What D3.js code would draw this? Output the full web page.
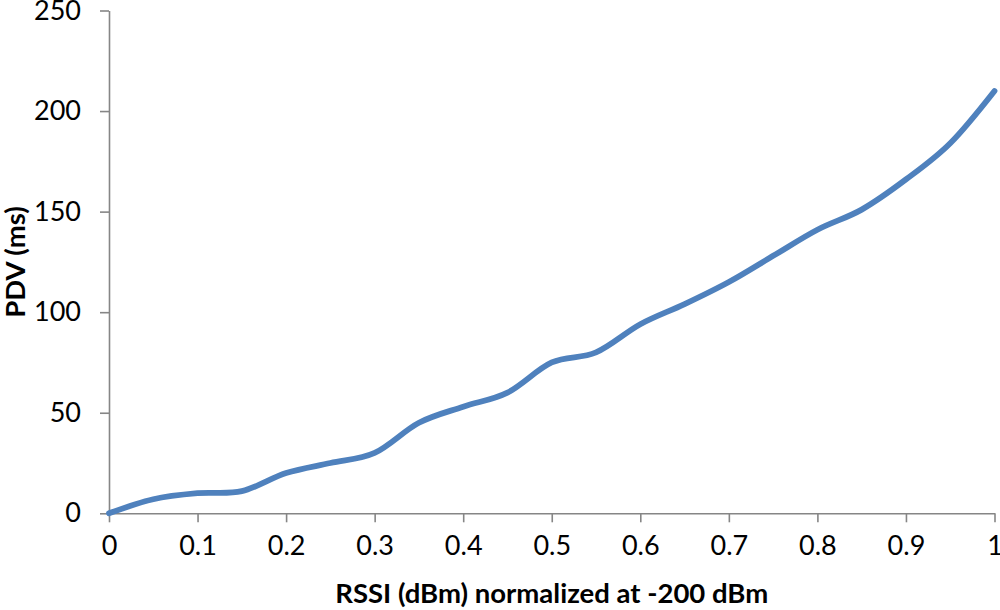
<!DOCTYPE html>
<html>
<head>
<meta charset="utf-8">
<script src="https://cdn.jsdelivr.net/npm/d3@7"></script>
<style>
  body { margin: 0; background: #fff; }
  svg { display: block; }
</style>
</head>
<body>
<script>
var wW = 1000;
var wH = 610;

// values, one point every 0.05
var rssi = [0, 0.05, 0.1, 0.15, 0.2, 0.25, 0.3, 0.35, 0.4, 0.45, 0.5,
            0.55, 0.6, 0.65, 0.7, 0.75, 0.8, 0.85, 0.9, 0.95, 1];
var pdv = [0, 7, 10, 11, 20, 25, 30, 45, 53, 60, 75,
           80, 94, 104, 115, 128, 141, 151, 166, 184, 210];
var xTicks = [0, 0.1, 0.2, 0.3, 0.4, 0.5, 0.6, 0.7, 0.8, 0.9, 1];
var yTicks = [0, 50, 100, 150, 200, 250];

var xTitle = "RSSI (dBm) normalized at -200 dBm";
var yTitle = "PDV (ms)";

// plot box (window.top is taken, so no "top" here)
var padL = 109, padR = 994.5, padT = 10.5, padB = 513.3;
var axisColor = "#868686";
var lineColor = "#4F81BD";
var font = "Lato, 'Open Sans', sans-serif";

var svg = d3.select("body").append("svg")
  .attr("width", wW)
  .attr("height", wH);

var x = d3.scaleLinear().domain([0, 1]).range([padL, padR]);
var y = d3.scaleLinear().domain([0, 250]).range([padB, padT]);

var xAxis = svg.append("g")
  .attr("transform", "translate(0," + padB + ")")
  .call(d3.axisBottom(x).tickValues(xTicks).tickSize(9).tickSizeOuter(0)
    .tickPadding(14).tickFormat(function(d) { return d3.format("")(d); }));

var yAxis = svg.append("g")
  .attr("transform", "translate(" + padL + ",0)")
  .call(d3.axisLeft(y).tickValues(yTicks).tickSize(9).tickSizeOuter(0)
    .tickPadding(19));

[xAxis, yAxis].forEach(function(g) {
  g.select(".domain").attr("stroke", axisColor).attr("stroke-width", 1.6);
  g.selectAll(".tick line").attr("stroke", axisColor).attr("stroke-width", 1.6);
  g.selectAll(".tick text")
    .attr("fill", "#000")
    .style("font-family", font)
    .style("font-size", "27px");
});

// the data line, smoothed like the original
var line = d3.line()
  .x(function(d, i) { return x(rssi[i]); })
  .y(function(d) { return y(d); })
  .curve(d3.curveCardinal.tension(0));

svg.append("path")
  .datum(pdv)
  .attr("d", line)
  .attr("fill", "none")
  .attr("stroke", lineColor)
  .attr("stroke-width", 5.8)
  .attr("stroke-linecap", "round")
  .attr("stroke-linejoin", "round");

svg.append("text")
  .attr("x", (padL + padR) / 2)
  .attr("y", 603)
  .attr("text-anchor", "middle")
  .style("font-family", font)
  .style("font-weight", "bold")
  .style("font-size", "27.5px")
  .text(xTitle);

svg.append("text")
  .attr("transform", "translate(25," + ((padT + padB) / 2) + ") rotate(-90)")
  .attr("text-anchor", "middle")
  .style("font-family", font)
  .style("font-weight", "bold")
  .style("font-size", "27.5px")
  .text(yTitle);
</script>
</body>
</html>
